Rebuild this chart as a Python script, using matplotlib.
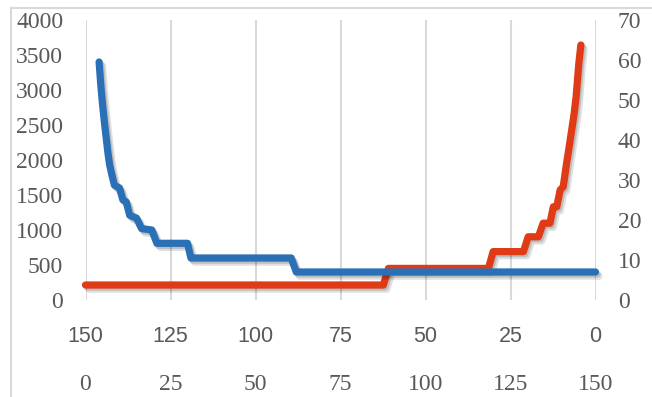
import matplotlib
matplotlib.use("Agg")
import matplotlib.pyplot as plt
import matplotlib.patheffects as pe
from matplotlib.lines import Line2D

# Blue series: position on the descending (150 -> 0) scale, value on the left axis
blue_x = [146, 145.5, 145, 144.4, 143.9, 143.4, 142.9, 142.2, 141.5, 140, 139,
          138, 137, 135, 133.5, 130.5, 129, 120, 119, 89.5, 88, 0]
blue_y = [3400, 3070, 2800, 2520, 2310, 2100, 1930, 1780, 1640, 1600, 1430,
          1400, 1210, 1170, 1020, 1000, 810, 810, 600, 600, 400, 400]

# Red series: position on the ascending (0 -> 150) scale, value on the right axis
red_x = [0, 87.6, 89.1, 118.5, 119.9, 128.8, 130.2, 133.2, 134.6, 136.6,
         137.6, 138.6, 139.6, 140.5, 141.5, 142.2, 143.0, 143.7, 144.3, 144.7,
         145.1, 145.7]
red_y = [3.75, 3.75, 7.9, 7.9, 12.1, 12.1, 15.8, 15.8, 19.2, 19.2, 23.3,
         23.3, 27.5, 28.3, 34.2, 38.0, 42.5, 46.5, 50.8, 55.0, 59.2, 63.75]

x_ticks = [0, 25, 50, 75, 100, 125, 150]
left_ticks = [0, 500, 1000, 1500, 2000, 2500, 3000, 3500, 4000]
right_ticks = [0, 10, 20, 30, 40, 50, 60, 70]

BLUE = "#2970b6"
RED = "#e03a16"
GRID = "#d9d9d9"
TEXT = "#595959"
SERIF = ["Liberation Serif", "DejaVu Serif"]
NARROW = ["Liberation Sans Narrow", "Liberation Sans", "DejaVu Sans"]

W, H = 652, 397
fig = plt.figure(figsize=(W / 100, H / 100), dpi=100)
fig.patch.set_facecolor("white")

left, right = 85.5 / W, 595.5 / W
bottom, top = (H - 300) / H, (H - 20) / H
rect = [left, bottom, right - left, top - bottom]

shadow = [pe.SimpleLineShadow(offset=(2.5, -3), shadow_color="black", alpha=0.12),
          pe.SimpleLineShadow(offset=(1.2, -1.5), shadow_color="black", alpha=0.15),
          pe.Normal()]

# Red series axes (ascending x, right-hand y)
ax_r = fig.add_axes(rect)
ax_r.set_xlim(0, 150)
ax_r.set_ylim(0, 70)
ax_r.set_facecolor("none")
for s in ax_r.spines.values():
    s.set_visible(False)
ax_r.set_xticks(x_ticks)
ax_r.set_yticks(right_ticks)
ax_r.yaxis.tick_right()
ax_r.tick_params(axis="both", length=0, colors=TEXT)
ax_r.tick_params(axis="y", pad=16)
ax_r.tick_params(axis="x", pad=53)
for lab in ax_r.get_yticklabels() + ax_r.get_xticklabels():
    lab.set_fontfamily(SERIF)
    lab.set_fontsize(17)
ax_r.grid(axis="x", color=GRID, linewidth=1.5)
ax_r.set_axisbelow(True)
ax_r.plot(red_x, red_y, color=RED, linewidth=5.2, solid_capstyle="round",
          solid_joinstyle="round", clip_on=False, path_effects=shadow)

# Blue series axes (descending x, left-hand y), drawn on top
ax_b = fig.add_axes(rect)
ax_b.set_xlim(150, 0)
ax_b.set_ylim(0, 4000)
ax_b.set_facecolor("none")
for s in ax_b.spines.values():
    s.set_visible(False)
ax_b.set_xticks(x_ticks)
ax_b.set_yticks(left_ticks)
ax_b.tick_params(axis="both", length=0, colors=TEXT)
ax_b.tick_params(axis="y", pad=16)
ax_b.tick_params(axis="x", pad=19)
for lab in ax_b.get_yticklabels():
    lab.set_fontfamily(SERIF)
    lab.set_fontsize(17)
for lab in ax_b.get_xticklabels():
    lab.set_fontfamily(NARROW)
    lab.set_fontsize(15.5)
ax_b.plot(blue_x, blue_y, color=BLUE, linewidth=5.2, solid_capstyle="round",
          solid_joinstyle="round", clip_on=False, path_effects=shadow)

# Chart-area border (top and left edges)
fig.add_artist(Line2D([11 / W, 1], [1 - 8 / H, 1 - 8 / H], transform=fig.transFigure,
                      color=GRID, linewidth=1.5))
fig.add_artist(Line2D([11 / W, 11 / W], [0, 1 - 8 / H], transform=fig.transFigure,
                      color=GRID, linewidth=1.5))

fig.savefig("out.png", dpi=100, facecolor="white")
